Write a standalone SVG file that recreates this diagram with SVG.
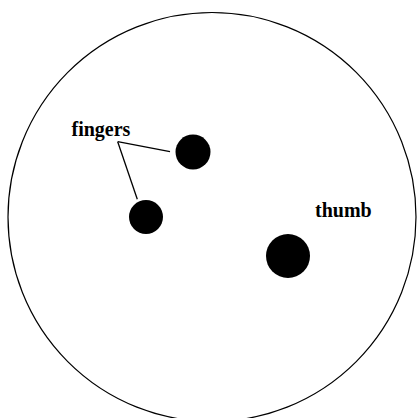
<svg xmlns="http://www.w3.org/2000/svg" width="417" height="418" viewBox="0 0 417 418">
<style>
text{font-family:'Liberation Serif', 'Times New Roman', 'DejaVu Serif', serif;font-size:20px;font-weight:bold;fill:#000}
.dot{fill:#000}
.ln{stroke:#000;stroke-width:1.3;fill:none}
</style>
<rect width="417" height="418" fill="#fff"/>
<g id="ball"><ellipse cx="212" cy="217" rx="204" ry="204.5" fill="none" stroke="#000" stroke-width="1.2"/></g>
<g id="finger1"><circle class="dot" cx="193" cy="152" r="17.5"/></g>
<g id="finger2"><circle class="dot" cx="146" cy="217" r="17"/></g>
<g id="thumb"><circle class="dot" cx="288" cy="256" r="22"/><text x="315" y="217" font-family="Liberation Serif, serif">thumb</text></g>
<g id="fingers-label"><text x="71.5" y="136" font-family="Liberation Serif, serif">fingers</text></g>
<g id="connectors">
<line class="ln" x1="117.7" y1="141.7" x2="170" y2="151.7"/>
<line class="ln" x1="117.7" y1="141.7" x2="137.3" y2="199.3"/>
</g>
</svg>
